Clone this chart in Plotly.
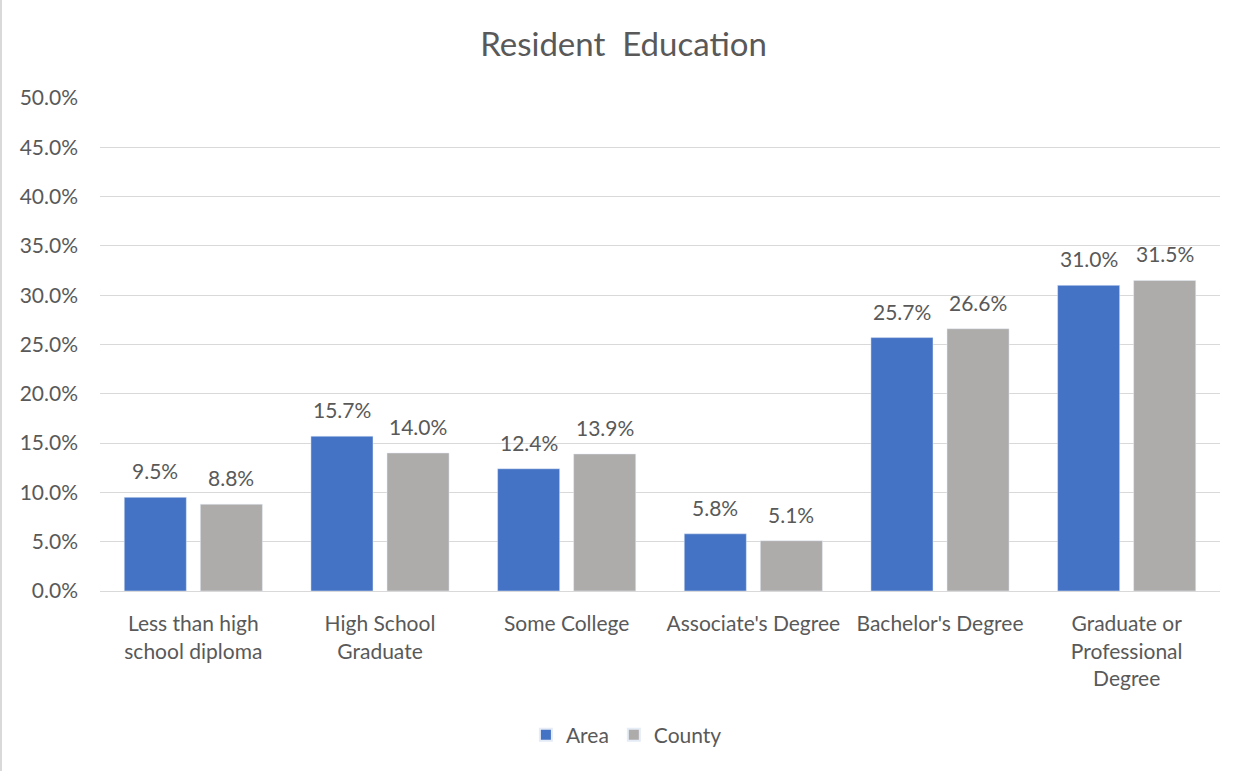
import plotly.graph_objects as go

categories = ["Less than high<br>school diploma", "High School<br>Graduate", "Some College",
              "Associate's Degree", "Bachelor's Degree", "Graduate or<br>Professional<br>Degree"]
area = [9.5, 15.7, 12.4, 5.8, 25.7, 31.0]
county = [8.8, 14.0, 13.9, 5.1, 26.6, 31.5]

FONT = "Lato, Open Sans, sans-serif"
TXT = "#595959"
FS = 21

fig = go.Figure()
fig.add_trace(go.Bar(name="Area", x=categories, y=area, marker_color="#4472C4"))
fig.add_trace(go.Bar(name="County", x=categories, y=county, marker_color="#AEABAB"))

# data labels above bars
for series, shift in ((area, -38), (county, 38)):
    for c, v in zip(categories, series):
        fig.add_annotation(x=c, y=v, text=f"{v:.1f}%", showarrow=False,
                           xanchor="center", yanchor="bottom", xshift=shift, yshift=12,
                           font=dict(size=FS, color=TXT, family=FONT))

W, H = 1247, 771
ml, mr, mt, mb = 100, 27, 98, 180
fig.update_layout(
    width=W, height=H,
    margin=dict(l=ml, r=mr, t=mt, b=mb),
    paper_bgcolor="white", plot_bgcolor="white",
    barmode="group", bargap=0.185, bargroupgap=0.184,
    title=dict(text="Resident  Education", x=0.5, xanchor="center", y=1 - 44 / H, yanchor="middle",
               font=dict(size=33, color=TXT, family=FONT)),
    font=dict(family=FONT, color=TXT, size=FS),
    yaxis=dict(range=[0, 50], dtick=5, ticksuffix="%", tickformat=".1f",
               gridcolor="#D9D9D9", gridwidth=1.3, zeroline=False, showline=False,
               tickfont=dict(size=FS, color=TXT), ticks="", ticklen=0,
               ticklabelstandoff=21, automargin=False),
    xaxis=dict(showline=True, linecolor="#D9D9D9", linewidth=1.3, ticks="",
               tickfont=dict(size=FS, color=TXT), automargin=False, tickangle=0,
               ticklabelstandoff=14),
    legend=dict(orientation="h", x=0.47, xanchor="center", y=-(735 - 591) / (591 - 98), yanchor="middle",
                font=dict(size=FS, color=TXT), itemsizing="constant", traceorder="normal"),
    showlegend=True,
    shapes=[dict(type="line", xref="paper", yref="paper",
                 x0=-(ml - 1) / (W - ml - mr), x1=-(ml - 1) / (W - ml - mr),
                 y0=-mb / (H - mt - mb), y1=1 + mt / (H - mt - mb),
                 line=dict(color="#D9D9D9", width=2))],
)
fig.write_html("out.html", config={"displayModeBar": False},
               post_script="document.body.style.margin='0';")
